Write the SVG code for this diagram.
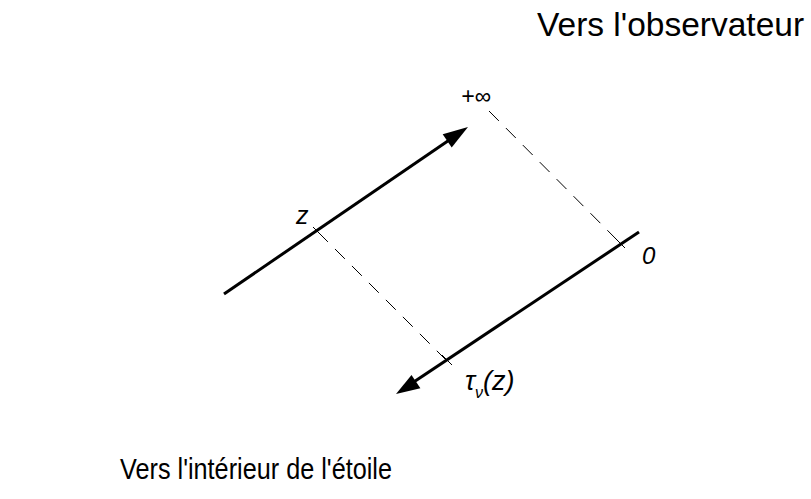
<svg xmlns="http://www.w3.org/2000/svg" width="811" height="499" viewBox="0 0 811 499">
<style>
.t{font-family:"Liberation Sans",Arial,sans-serif;fill:#000}
.i{font-style:italic}
.ax{stroke:#000;stroke-width:3;fill:none;stroke-linecap:butt}
.d{stroke:#000;stroke-width:1;fill:none;stroke-dasharray:14 10}
.tk{stroke:#000;stroke-width:1;fill:none}
</style>
<rect width="811" height="499" fill="#fff"/>
<g id="connectors">
<line class="ax" x1="224" y1="294" x2="450" y2="139.5"/>
<polygon points="468,127 451.7,147.4 442.7,134.2" fill="#000"/>
<line class="ax" x1="639" y1="232" x2="413" y2="382.5"/>
<polygon points="396,394 420.4,388.3 411.5,375" fill="#000"/>
<line class="d" x1="489" y1="111" x2="620" y2="243"/>
<line class="d" x1="318" y1="232" x2="447" y2="361"/>
<line class="tk" x1="313" y1="227" x2="323" y2="237"/>
<line class="tk" x1="615" y1="238" x2="625" y2="248"/>
<line class="tk" x1="442" y1="355" x2="452" y2="365"/>
</g>
<g id="label-top"><text class="t" x="537" y="36" font-size="33.5">Vers l'observateur</text></g>
<g id="label-bottom"><text class="t" x="120" y="479" font-size="29" textLength="272" lengthAdjust="spacingAndGlyphs">Vers l'intérieur de l'étoile</text></g>
<g id="label-inf"><text class="t i" x="461" y="104" font-size="23">+∞</text></g>
<g id="label-z"><text class="t i" x="296" y="224" font-size="25">z</text></g>
<g id="label-0"><text class="t i" x="642" y="264" font-size="24">0</text></g>
<g id="label-tau"><text class="t i" x="465" y="390" font-size="27">τ<tspan font-size="16" dy="8">ν</tspan><tspan dy="-8">(z)</tspan></text></g>
</svg>
